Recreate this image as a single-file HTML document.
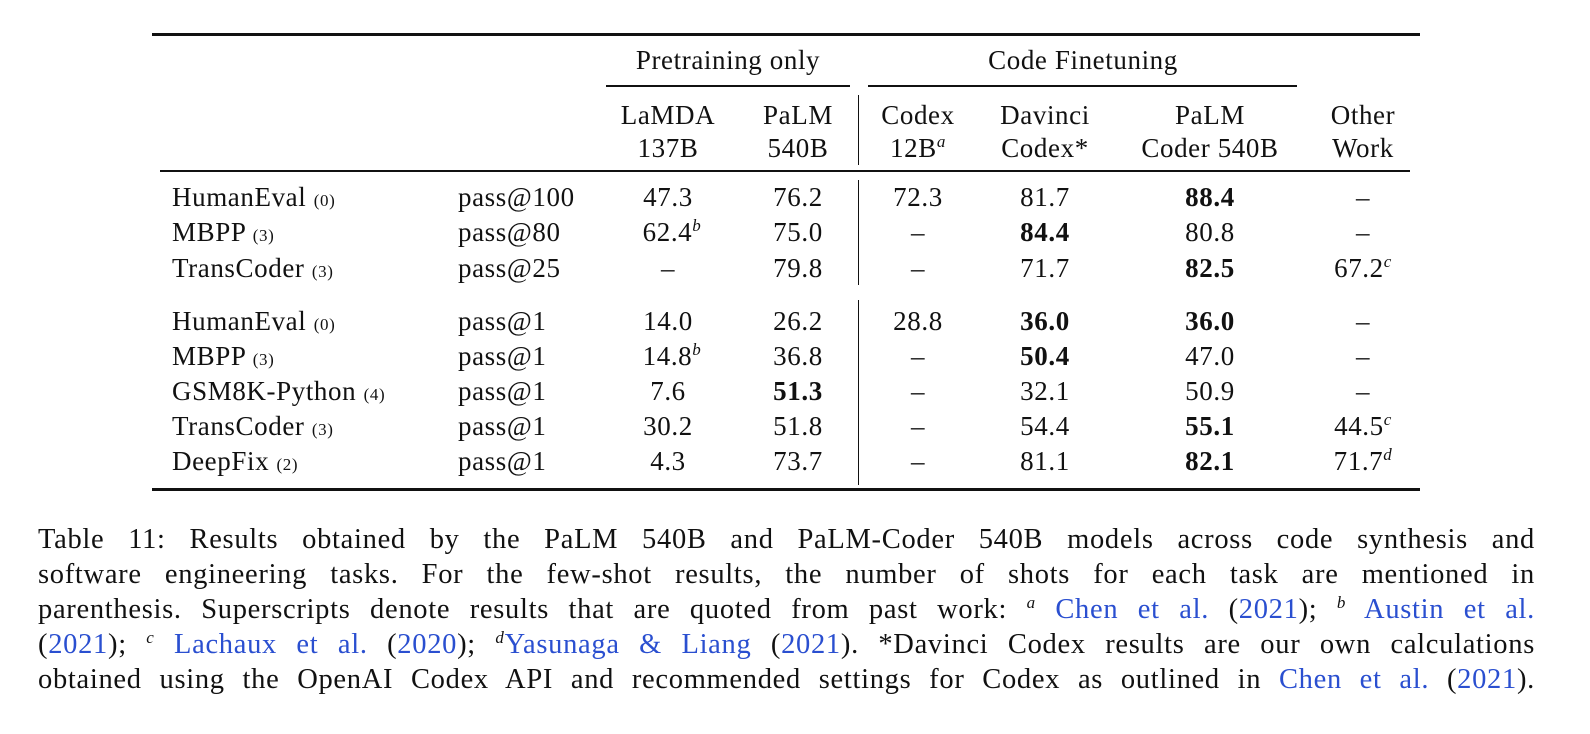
<!DOCTYPE html>
<html><head><meta charset="utf-8"><style>
body{margin:0;background:#fff;width:1590px;height:734px;position:relative;overflow:hidden;font-family:"Liberation Serif",serif;color:#111;}
.t{position:absolute;font-size:27px;letter-spacing:0.6px;white-space:nowrap;line-height:1;}
.c{transform:translateX(-50%);text-align:center;}
.s{font-size:17px;}
sup{font-size:17px;font-style:italic;line-height:0;vertical-align:10px;}
b{font-weight:bold;}
.r{position:absolute;background:#111;}
.cap{position:absolute;left:38px;width:1497px;font-size:28.5px;letter-spacing:0.7px;line-height:1;text-align:justify;text-align-last:justify;white-space:nowrap;}
.l{color:#2a4fd0;}
</style></head><body>
<div class="r" style="left:152px;top:33px;width:1268px;height:3px"></div>
<div class="r" style="left:606px;top:85px;width:244px;height:1.5px"></div>
<div class="r" style="left:868px;top:85px;width:429px;height:1.5px"></div>
<div class="r" style="left:160px;top:170px;width:1250px;height:1.5px"></div>
<div class="r" style="left:152px;top:488px;width:1268px;height:3px"></div>
<div class="r" style="left:858px;top:95px;width:1.3px;height:70px"></div>
<div class="r" style="left:858px;top:180px;width:1.3px;height:105px"></div>
<div class="r" style="left:858px;top:300px;width:1.3px;height:185px"></div>

<div class="t c" style="left:728px;top:47px">Pretraining only</div>
<div class="t c" style="left:1083px;top:47px">Code Finetuning</div>
<div class="t c" style="left:668px;top:99px;line-height:33px">LaMDA<br>137B</div>
<div class="t c" style="left:798px;top:99px;line-height:33px">PaLM<br>540B</div>
<div class="t c" style="left:918px;top:99px;line-height:33px">Codex<br>12B<sup>a</sup></div>
<div class="t c" style="left:1045px;top:99px;line-height:33px">Davinci<br>Codex*</div>
<div class="t c" style="left:1210px;top:99px;line-height:33px">PaLM<br>Coder 540B</div>
<div class="t c" style="left:1363px;top:99px;line-height:33px">Other<br>Work</div>

<div style="position:absolute;left:0;top:184px">
<div class="t" style="left:172px;top:0">HumanEval <span class="s">(0)</span></div><div class="t" style="left:458px;top:0">pass@100</div>
<div class="t c" style="left:668px;top:0">47.3</div><div class="t c" style="left:798px;top:0">76.2</div><div class="t c" style="left:918px;top:0">72.3</div><div class="t c" style="left:1045px;top:0">81.7</div><div class="t c" style="left:1210px;top:0"><b>88.4</b></div><div class="t c" style="left:1363px;top:0">–</div>
<div class="t" style="left:172px;top:35px">MBPP <span class="s">(3)</span></div><div class="t" style="left:458px;top:35px">pass@80</div>
<div class="t c" style="left:672px;top:35px">62.4<sup>b</sup></div><div class="t c" style="left:798px;top:35px">75.0</div><div class="t c" style="left:918px;top:35px">–</div><div class="t c" style="left:1045px;top:35px"><b>84.4</b></div><div class="t c" style="left:1210px;top:35px">80.8</div><div class="t c" style="left:1363px;top:35px">–</div>
<div class="t" style="left:172px;top:71px">TransCoder <span class="s">(3)</span></div><div class="t" style="left:458px;top:71px">pass@25</div>
<div class="t c" style="left:668px;top:71px">–</div><div class="t c" style="left:798px;top:71px">79.8</div><div class="t c" style="left:918px;top:71px">–</div><div class="t c" style="left:1045px;top:71px">71.7</div><div class="t c" style="left:1210px;top:71px"><b>82.5</b></div><div class="t c" style="left:1363px;top:71px">67.2<sup>c</sup></div>
</div>

<div style="position:absolute;left:0;top:308px">
<div class="t" style="left:172px;top:0">HumanEval <span class="s">(0)</span></div><div class="t" style="left:458px;top:0">pass@1</div>
<div class="t c" style="left:668px;top:0">14.0</div><div class="t c" style="left:798px;top:0">26.2</div><div class="t c" style="left:918px;top:0">28.8</div><div class="t c" style="left:1045px;top:0"><b>36.0</b></div><div class="t c" style="left:1210px;top:0"><b>36.0</b></div><div class="t c" style="left:1363px;top:0">–</div>
<div class="t" style="left:172px;top:35px">MBPP <span class="s">(3)</span></div><div class="t" style="left:458px;top:35px">pass@1</div>
<div class="t c" style="left:672px;top:35px">14.8<sup>b</sup></div><div class="t c" style="left:798px;top:35px">36.8</div><div class="t c" style="left:918px;top:35px">–</div><div class="t c" style="left:1045px;top:35px"><b>50.4</b></div><div class="t c" style="left:1210px;top:35px">47.0</div><div class="t c" style="left:1363px;top:35px">–</div>
<div class="t" style="left:172px;top:70px">GSM8K-Python <span class="s">(4)</span></div><div class="t" style="left:458px;top:70px">pass@1</div>
<div class="t c" style="left:668px;top:70px">7.6</div><div class="t c" style="left:798px;top:70px"><b>51.3</b></div><div class="t c" style="left:918px;top:70px">–</div><div class="t c" style="left:1045px;top:70px">32.1</div><div class="t c" style="left:1210px;top:70px">50.9</div><div class="t c" style="left:1363px;top:70px">–</div>
<div class="t" style="left:172px;top:105px">TransCoder <span class="s">(3)</span></div><div class="t" style="left:458px;top:105px">pass@1</div>
<div class="t c" style="left:668px;top:105px">30.2</div><div class="t c" style="left:798px;top:105px">51.8</div><div class="t c" style="left:918px;top:105px">–</div><div class="t c" style="left:1045px;top:105px">54.4</div><div class="t c" style="left:1210px;top:105px"><b>55.1</b></div><div class="t c" style="left:1363px;top:105px">44.5<sup>c</sup></div>
<div class="t" style="left:172px;top:140px">DeepFix <span class="s">(2)</span></div><div class="t" style="left:458px;top:140px">pass@1</div>
<div class="t c" style="left:668px;top:140px">4.3</div><div class="t c" style="left:798px;top:140px">73.7</div><div class="t c" style="left:918px;top:140px">–</div><div class="t c" style="left:1045px;top:140px">81.1</div><div class="t c" style="left:1210px;top:140px"><b>82.1</b></div><div class="t c" style="left:1363px;top:140px">71.7<sup>d</sup></div>
</div>

<div class="cap" style="top:526px">Table 11: Results obtained by the PaLM 540B and PaLM-Coder 540B models across code synthesis and</div>
<div class="cap" style="top:561px">software engineering tasks. For the few-shot results, the number of shots for each task are mentioned in</div>
<div class="cap" style="top:596px">parenthesis. Superscripts denote results that are quoted from past work: <sup>a</sup> <span class="l">Chen et al.</span> (<span class="l">2021</span>); <sup>b</sup> <span class="l">Austin et al.</span></div>
<div class="cap" style="top:631px">(<span class="l">2021</span>); <sup>c</sup> <span class="l">Lachaux et al.</span> (<span class="l">2020</span>); <sup>d</sup><span class="l">Yasunaga &amp; Liang</span> (<span class="l">2021</span>). *Davinci Codex results are our own calculations</div>
<div class="cap" style="top:666px">obtained using the OpenAI Codex API and recommended settings for Codex as outlined in <span class="l">Chen et al.</span> (<span class="l">2021</span>).</div>
</body></html>
